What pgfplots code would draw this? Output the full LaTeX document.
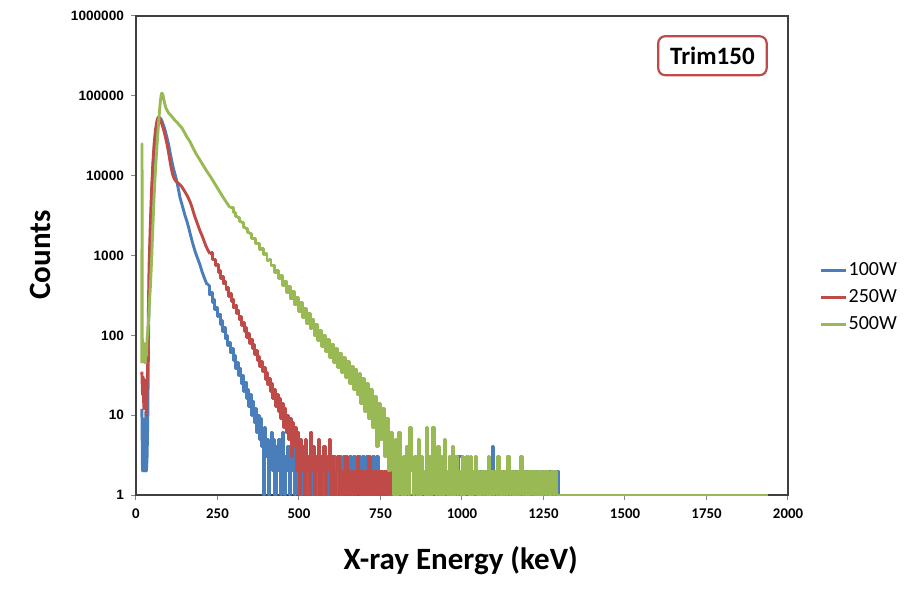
\documentclass[border=0pt]{standalone}
\usepackage{fontspec}
\setmainfont{Carlito}
\newfontfamily\arial{Liberation Sans}
\usepackage{pgfplots}
\pgfplotsset{compat=1.18}
\definecolor{xlblue}{HTML}{4A7EBB}
\definecolor{xlred}{HTML}{BE4B48}
\definecolor{xlgreen}{HTML}{98B954}
\definecolor{axgray}{HTML}{404040}
\definecolor{tkgray}{HTML}{868686}

\begin{document}
\begin{tikzpicture}
\useasboundingbox (-68pt,-50.5pt) rectangle (387.5pt,247.5pt);
\begin{axis}[
  scale only axis, width=326pt, height=239.5pt,
  at={(0,0)}, anchor=south west,
  xmin=0, xmax=2000, ymin=1, ymax=1000000, ymode=log,
  xtick={0,250,500,750,1000,1250,1500,1750,2000},
  xticklabels={0,250,500,750,1000,1250,1500,1750,2000},
  ytick={1,10,100,1000,10000,100000,1000000},
  yticklabels={1,10,100,1000,10000,100000,1000000},
  yminorticks=false, xminorticks=false,
  tick align=outside, xtick pos=bottom, ytick pos=left,
  major tick length=2.5pt,
  tick style={tkgray, line width=0.5pt},
  axis line style={axgray, line width=0.8pt},
  xticklabel style={font=\fontsize{7.4}{8}\selectfont\bfseries, yshift=-1pt},
  yticklabel style={font=\fontsize{6.8}{8}\selectfont\bfseries\arial},
  xlabel={X-ray Energy (keV)},
  ylabel={Counts},
  xlabel style={font=\fontsize{15.5}{18}\selectfont\bfseries,
    at={(axis description cs:0.498,-0.136)}, anchor=center},
  ylabel style={font=\fontsize{15.5}{18}\selectfont\bfseries,
    at={(axis description cs:-0.147,0.501)}, anchor=center, rotate=0},
  legend style={at={(1.039,0.413)}, anchor=west, draw=none, fill=none,
    font=\fontsize{10}{12}\selectfont, row sep=4.5pt,
    nodes={inner sep=0.5pt}},
  legend cell align=left,
  legend image code/.code={\draw[#1, line width=1.4pt] (0pt,0pt) -- (12.5pt,0pt);},
  every axis plot/.append style={line width=1.45pt, line join=round},
  tail/.style={const plot, forget plot},
  clip=true,
]
% 100W
\addplot[xlblue] coordinates {
(18,12) (20,2) (22,9) (24,2) (26,4) (28,2) (30,11) (32,2) (34,3) (36,8)
(38,60) (40,300) (44,1500) (48,5000) (52,12000) (56,22000) (60,33000) (64,43000)
(68,50000) (72,53000) (76,52000) (80,48000) (85,42000) (90,36000) (95,30000)
(100,24500) (104,20000) (108,16500) (112,13800) (116,11800) (120,10300) (125,8600)
(130,6800) (135,5300) (140,4500) (145,3800) (150,3200) (156,2700) (162,2200)
(168,1750) (175,1370) (182,1100) (189,920) (196,770) (203,620) (210,520) (218,430)
};
\addplot[xlblue, tail] coordinates {
(218,430)
(222,420) (226,320) (230,340) (234,260) (238,280) (242,210) (246,225) (250,170)
(254,185) (258,138) (262,152) (266,112) (270,124) (274,90) (278,100) (282,74)
(286,82) (290,60) (294,68) (298,48) (302,56) (306,38) (310,46) (314,31) (318,38)
(322,25) (326,31) (330,20) (334,26) (338,16) (342,21) (346,13) (350,18) (354,10)
(358,15) (362,8) (366,12) (370,6) (374,10) (378,5) (382,9) (386,4) (390,1) (394,7)
(398,3) (402,5) (406,1) (410,4) (414,6) (418,2) (422,5) (426,1) (430,4) (434,2)
(438,5) (442,1) (446,3) (450,6) (454,1) (458,3) (462,2) (466,4) (470,1) (474,3)
(478,2) (482,5) (486,1) (490,6) (494,2) (498,1) (502,3) (506,1) (510,2)
(516,1) (522,2) (528,1) (534,3) (540,1) (546,2) (552,1) (558,2) (564,1) (570,3)
(576,1) (582,2) (588,1) (594,3) (600,1) (606,3) (612,1) (618,2) (624,3) (630,1)
(636,3) (642,2) (648,1) (654,3) (660,1) (666,3) (672,1) (678,2) (684,3) (690,1)
(696,3) (702,1) (708,3) (714,1) (720,2) (726,3) (732,1) (738,3) (744,1) (750,2)
(756,1) (762,2) (768,1) (774,2) (780,1) (790,2) (800,1) (810,2) (820,1) (830,3)
(840,1) (850,2) (860,1) (880,2) (890,1) (910,2) (920,1) (940,2) (950,1) (970,2)
(980,1) (990,3) (1000,1) (1010,2) (1020,1) (1040,2) (1046,1) (1050,2) (1054,2)
(1058,1) (1062,2) (1066,2) (1070,1) (1074,2) (1078,1) (1082,2) (1088,1) (1092,4)
(1096,1) (1100,2) (1110,1) (1116,2) (1122,1) (1128,2) (1134,1) (1140,3) (1146,1)
(1152,2) (1158,1) (1166,2) (1172,1) (1180,2) (1186,1) (1194,2) (1200,1) (1210,2)
(1216,1) (1224,2) (1230,1) (1240,2) (1246,1) (1254,2) (1260,1) (1268,2) (1274,1)
(1282,2) (1288,1) (1292,2) (1296,1)
};
% 250W
\addplot[xlred] coordinates {
(18,35) (20,18) (22,30) (24,12) (26,28) (28,14) (30,25) (32,10) (34,22) (36,45)
(38,200) (40,700) (44,2500) (48,7000) (52,15000) (56,26000) (60,38000) (64,48000)
(67,53000) (70,54000) (74,51000) (78,46000) (82,41000) (86,36000) (90,31000)
(95,25000) (100,19500) (104,15500) (108,12500) (112,10500) (116,9400) (120,8800)
(125,8300) (130,8000) (135,7700) (140,7300) (145,6800) (150,6300) (155,5800)
(160,5300) (166,4700) (172,4000) (178,3300) (184,2800) (190,2400) (196,2050)
(202,1800) (208,1550) (214,1330) (220,1180) (227,1050)
};
\addplot[xlred, tail] coordinates {
(227,1050)
(232,1080) (236,880) (240,900) (244,740) (248,770) (252,620) (256,650) (260,520)
(264,550) (268,440) (272,470) (276,370) (280,395) (284,310) (288,335) (292,265)
(296,285) (300,220) (304,240) (308,188) (312,205) (316,158) (320,172) (324,134)
(328,145) (332,112) (336,125) (340,95) (344,106) (348,80) (352,90) (356,68)
(360,76) (364,57) (368,65) (372,48) (376,55) (380,41) (384,47) (388,35) (392,40)
(396,28) (400,34) (404,24) (408,29) (412,20) (416,25) (420,16) (424,21) (428,13)
(432,18) (436,11) (440,16) (444,9) (448,14) (452,7) (456,12) (460,6) (464,10)
(468,5) (472,9) (476,3) (480,8) (484,4) (488,7) (492,2) (496,6) (500,1) (504,5)
(508,2) (512,4) (516,1) (520,5) (524,2) (528,3) (532,1) (536,6) (540,2) (544,4)
(548,1) (552,3) (556,2) (560,5) (564,1) (568,3) (572,2) (576,4) (580,1) (584,3)
(588,2) (592,5) (596,1) (600,3) (606,1) (612,2) (618,3) (624,1) (630,2) (636,1)
(642,3) (648,1) (654,2) (660,1) (666,2) (672,1) (678,3) (684,1) (690,2) (696,1)
(702,2) (708,1) (714,3) (720,1) (726,2) (732,1) (738,2) (744,1) (750,2) (756,1)
(762,2) (768,1) (774,2) (780,1)
};
% 500W
\addplot[xlgreen] coordinates {
(18,45) (18.5,25000) (19,90) (20,90) (22,60) (24,80) (26,50) (28,45) (30,70) (32,55)
(34,90) (36,110) (38,140) (40,200) (42,300) (44,400) (46,600) (48,900) (50,1500)
(54,4000) (58,9000) (62,17000) (66,30000) (70,50000) (74,80000) (77,100000)
(79,108000) (82,105000) (85,92000) (88,80000) (92,70000) (96,65000) (100,61000)
(105,58000) (110,55000) (115,52000) (120,49000) (125,47000) (130,44500)
(135,42000) (140,40000) (145,37000) (150,34000) (155,31000) (160,29000)
(166,26500) (172,23500) (178,21000) (186,18300) (195,16000) (205,13700)
(217,11400) (230,9500) (248,7200) (268,5300) (288,4000)
};
\addplot[xlgreen, tail] coordinates {
(288,4000)
(300,3500) (306,3050) (312,3000) (318,2650) (324,2600) (330,2250) (336,2200)
(342,1950) (348,1900) (354,1650) (360,1650) (366,1400) (372,1420) (378,1200)
(384,1230) (390,1020) (396,1060) (402,870) (408,900) (414,740) (420,760)
(426,620) (432,650) (438,520) (444,560) (450,420) (456,480) (462,340) (468,410)
(474,285) (480,350) (486,240) (492,300) (498,200) (504,255) (510,168) (516,218)
(522,142) (528,186) (534,120) (540,160) (546,100) (552,138) (558,86) (564,116)
(570,72) (576,100) (582,62) (588,88) (594,53) (600,78) (606,46) (612,68)
(618,40) (624,60) (630,34) (636,53) (642,30) (648,47) (654,25) (660,41)
(666,21) (672,37) (678,18) (684,33) (690,14) (696,29) (702,11) (708,25)
(714,9) (720,21) (726,7) (732,17) (738,4) (744,14) (750,5) (756,12) (762,3)
(768,9) (774,2) (780,6)
(786,3) (790,1) (795,5) (800,1) (805,6) (810,2) (815,1) (820,3) (825,1) (830,4)
(835,1) (840,7) (845,2) (850,1) (855,3) (860,1) (865,5) (870,1) (875,3) (880,2)
(885,1) (890,7) (895,1) (900,3) (905,1) (910,7) (915,2) (920,1) (925,4) (930,1)
(935,3) (940,1) (945,5) (950,2) (955,1) (960,3) (965,1) (970,4) (975,1) (980,3)
(985,1) (990,2) (995,1) (1000,3) (1005,1) (1010,2) (1015,3) (1020,1) (1025,3)
(1030,1) (1035,2) (1040,3) (1045,1)
(1050,2) (1055,1) (1060,2) (1065,1) (1070,2) (1075,1) (1080,3) (1085,1) (1090,2)
(1095,1) (1100,2) (1105,1) (1110,3) (1115,1) (1120,2) (1125,1) (1130,2) (1135,1)
(1140,3) (1145,1) (1150,2) (1155,1) (1160,2) (1165,1) (1170,2) (1175,1) (1180,3)
(1185,1) (1190,2) (1195,1) (1200,2) (1205,1) (1210,2) (1215,1) (1220,2) (1225,1)
(1230,2) (1235,1) (1240,2) (1245,1) (1250,2) (1255,1) (1260,2) (1265,1) (1270,1)
(1275,2) (1280,1) (1285,2) (1290,1) (1300,1) (1940,1)
};
\legend{100W,250W,500W}
\node[draw=xlred, line width=1.1pt, rounded corners=3.5pt, fill=white,
  font=\fontsize{12.5}{15}\selectfont\bfseries, inner xsep=6pt, inner ysep=5.3pt,
  anchor=north east]
  at (rel axis cs:0.969,0.960) {Trim150};
\end{axis}
\end{tikzpicture}
\end{document}
